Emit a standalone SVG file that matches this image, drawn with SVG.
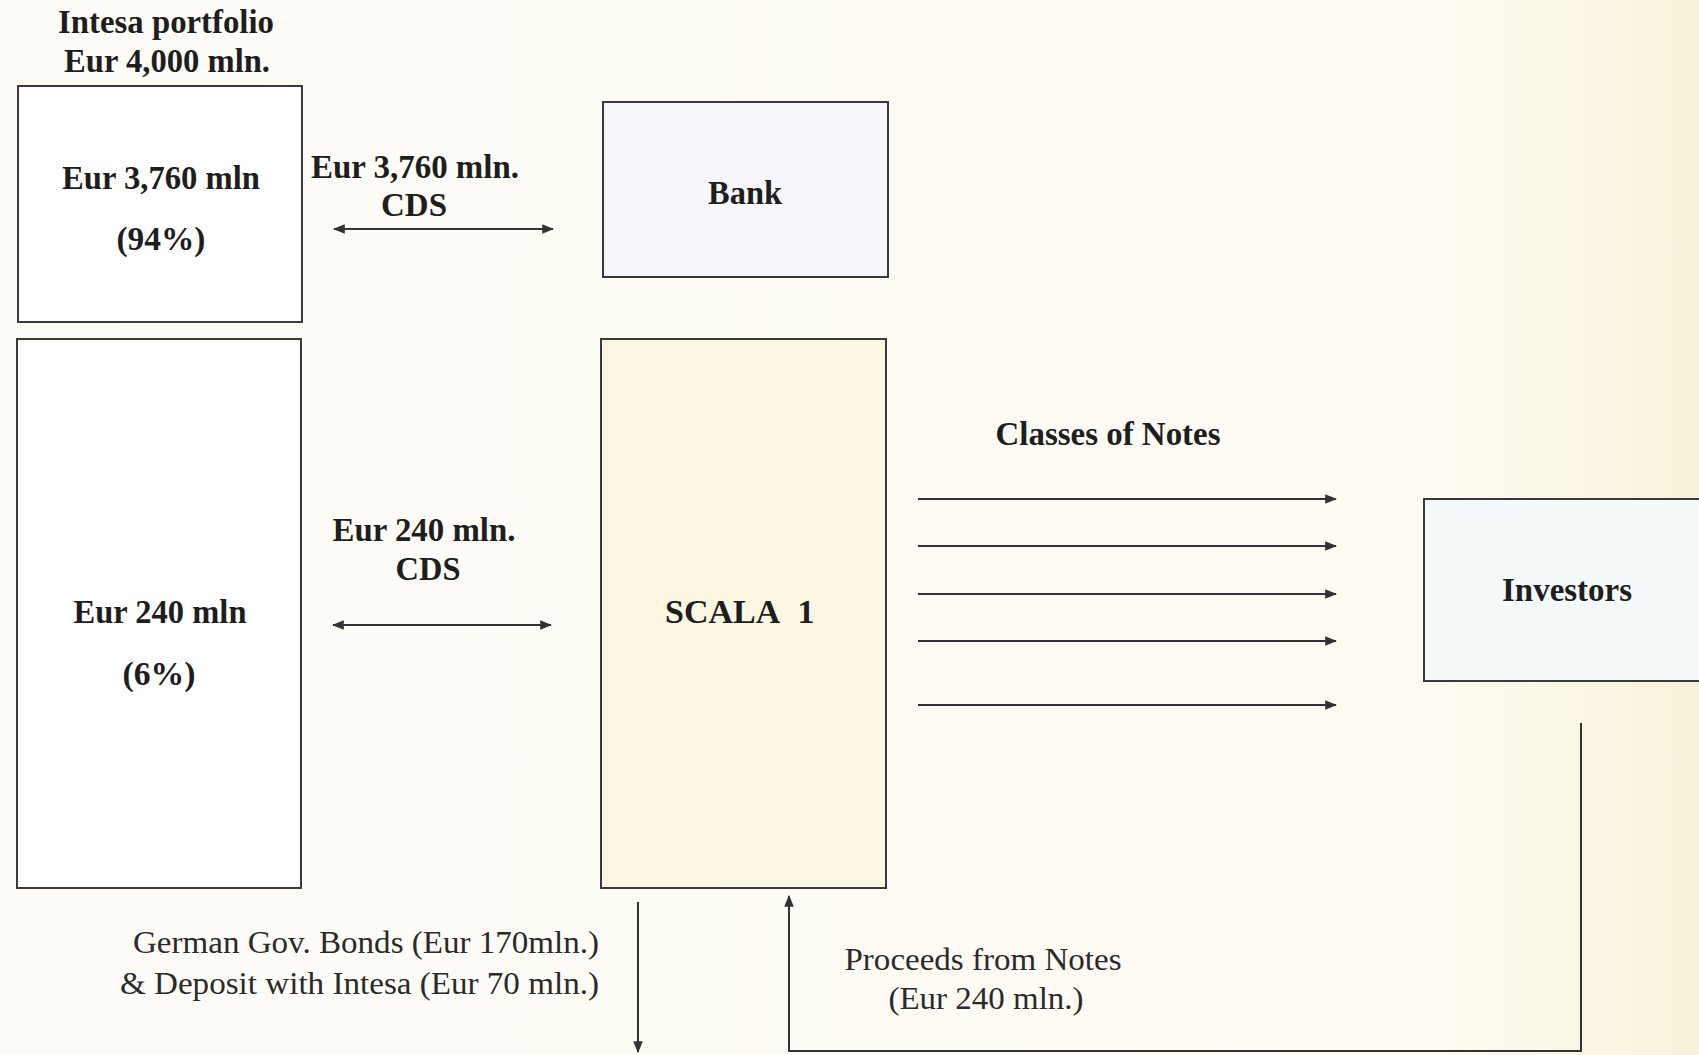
<svg xmlns="http://www.w3.org/2000/svg" width="1699" height="1055" viewBox="0 0 1699 1055">
  <style>
    .box { stroke: #3a3a3a; stroke-width: 2; }
    .b { font-family: "Liberation Serif", "Times New Roman", serif; font-weight: bold; font-size: 34px; fill: #1e1e1e; text-anchor: middle; }
    .r { font-family: "Liberation Serif", "Times New Roman", serif; font-size: 32px; fill: #2a2a2a; }
    .ln { stroke: #333; stroke-width: 2; fill: none; }
  </style>
  <defs>
    <linearGradient id="bg" x1="0" y1="0" x2="1" y2="0">
      <stop offset="0" stop-color="#fdfcf7"/>
      <stop offset="0.85" stop-color="#fdfbf2"/>
      <stop offset="1" stop-color="#f8f1d9"/>
    </linearGradient>
    <marker id="ah" viewBox="0 0 10 10" refX="9" refY="5" markerWidth="6" markerHeight="6" orient="auto-start-reverse" markerUnits="strokeWidth">
      <path d="M0 1 L10 5 L0 9 Z" fill="#333"/>
    </marker>
  </defs>
  <rect x="0" y="0" width="1699" height="1055" fill="url(#bg)"/>

  <g id="title">
    <text class="b" x="166" y="33" textLength="216" lengthAdjust="spacingAndGlyphs">Intesa portfolio</text>
    <text class="b" x="167" y="72" textLength="206" lengthAdjust="spacingAndGlyphs">Eur 4,000 mln.</text>
  </g>

  <g id="portfolio-94">
    <rect class="box" x="18" y="86" width="284" height="236" fill="#ffffff"/>
    <text class="b" x="161" y="189" textLength="198" lengthAdjust="spacingAndGlyphs">Eur 3,760 mln</text>
    <text class="b" x="161" y="250" textLength="89" lengthAdjust="spacingAndGlyphs">(94%)</text>
  </g>

  <g id="portfolio-6">
    <rect class="box" x="17" y="339" width="284" height="549" fill="#ffffff"/>
    <text class="b" x="160" y="623" textLength="173" lengthAdjust="spacingAndGlyphs">Eur 240 mln</text>
    <text class="b" x="159" y="685" textLength="73" lengthAdjust="spacingAndGlyphs">(6%)</text>
  </g>

  <g id="bank">
    <rect class="box" x="603" y="102" width="285" height="175" fill="#f7f7fb"/>
    <text class="b" x="745" y="204" textLength="74" lengthAdjust="spacingAndGlyphs">Bank</text>
  </g>

  <g id="scala">
    <rect class="box" x="601" y="339" width="285" height="549" fill="#fcf7e3"/>
    <text class="b" x="726" y="623">SCALA <tspan x="806">1</tspan></text>
  </g>

  <g id="investors">
    <rect class="box" x="1424" y="499" width="290" height="182" fill="#f4f9f9"/>
    <text class="b" x="1567" y="601" textLength="130" lengthAdjust="spacingAndGlyphs">Investors</text>
  </g>

  <g id="connectors">
    <line class="ln" x1="334" y1="229" x2="553" y2="229" stroke-width="1.6" marker-start="url(#ah)" marker-end="url(#ah)"/>
    <line class="ln" x1="333" y1="625" x2="551" y2="625" marker-start="url(#ah)" marker-end="url(#ah)"/>
    <line class="ln" x1="918" y1="499" x2="1336" y2="499" marker-end="url(#ah)"/>
    <line class="ln" x1="918" y1="546" x2="1336" y2="546" marker-end="url(#ah)"/>
    <line class="ln" x1="918" y1="594" x2="1336" y2="594" marker-end="url(#ah)"/>
    <line class="ln" x1="918" y1="641" x2="1336" y2="641" stroke="#666" marker-end="url(#ah)"/>
    <line class="ln" x1="918" y1="705" x2="1336" y2="705" marker-end="url(#ah)"/>
    <line class="ln" x1="638" y1="902" x2="638" y2="1052" marker-end="url(#ah)"/>
    <polyline class="ln" points="1581,723 1581,1051 789,1051 789,896" marker-end="url(#ah)"/>
  </g>

  <g id="labels">
    <text class="b" x="415" y="178" textLength="208" lengthAdjust="spacingAndGlyphs">Eur 3,760 mln.</text>
    <text class="b" x="414" y="216" textLength="66" lengthAdjust="spacingAndGlyphs">CDS</text>
    <text class="b" x="424" y="541" textLength="183" lengthAdjust="spacingAndGlyphs">Eur 240 mln.</text>
    <text class="b" x="428" y="580" textLength="65" lengthAdjust="spacingAndGlyphs">CDS</text>
    <text class="b" x="1108" y="445" textLength="225" lengthAdjust="spacingAndGlyphs">Classes of Notes</text>
    <text class="r" x="599" y="953" text-anchor="end" textLength="466" lengthAdjust="spacingAndGlyphs">German Gov. Bonds (Eur 170mln.)</text>
    <text class="r" x="599" y="994" text-anchor="end" textLength="479" lengthAdjust="spacingAndGlyphs">&amp; Deposit with Intesa (Eur 70 mln.)</text>
    <text class="r" x="983" y="970" text-anchor="middle" textLength="277" lengthAdjust="spacingAndGlyphs">Proceeds from Notes</text>
    <text class="r" x="986" y="1009" text-anchor="middle" textLength="195" lengthAdjust="spacingAndGlyphs">(Eur 240 mln.)</text>
  </g>
</svg>
